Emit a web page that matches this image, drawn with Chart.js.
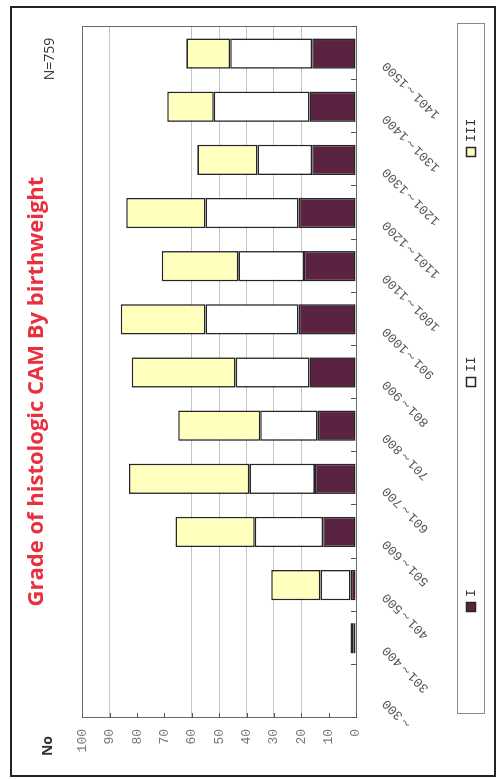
<!DOCTYPE html>
<html>
<head>
<meta charset="utf-8">
<script src="https://cdn.jsdelivr.net/npm/chart.js@4/dist/chart.umd.min.js"></script>
<style>
  html, body { margin:0; padding:0; background:#fff; overflow:hidden; }
  #frame { position:absolute; left:10px; top:6px; width:486px; height:771px; border:2px solid #222; box-sizing:border-box; }
  #wrap { position:absolute; left:0; top:0; width:780px; height:497px; transform-origin:0 0; transform:translate(0,780px) rotate(-90deg); }
</style>
</head>
<body>
<div id="wrap"><canvas id="c" width="780" height="497"></canvas></div>
<div id="frame"></div>
<script>
// ---- data ----
const categories = ['～300','301～400','401～500','501～600','601～700','701～800','801～900','901～1000','1001～1100','1101～1200','1201～1300','1301～1400','1401～1500'];
const gradeI   = [0, 1, 2, 12, 15, 14, 17, 21, 19, 21, 16, 17, 16];
const gradeII  = [0, 1, 11, 25, 24, 21, 27, 34, 24, 34, 20, 35, 30];
const gradeIII = [0, 0, 18, 29, 44, 30, 38, 31, 28, 29, 22, 17, 16];
const seriesNames = ['I', 'II', 'III'];
const valueMin = 0, valueMax = 100, valueStep = 10;
const fadedGridValues = [10, 70, 80];
const titleText = 'Grade of histologic CAM By birthweight';
const axisLabel = 'No';
const sampleNote = 'N=759';

const seriesColors = ['#5b2342', '#ffffff', '#ffffbe'];
const legendSlots = [0.153, 0.479, 0.812];

const decor = {
  id: 'decor',
  afterDraw(chart) {
    const ctx = chart.ctx, ca = chart.chartArea;
    const xs = chart.scales.x, ys = chart.scales.y;
    ctx.save();
    // plot border
    ctx.strokeStyle = '#6a6a6a';
    ctx.lineWidth = 1;
    ctx.strokeRect(Math.round(ca.left) + 0.5, Math.round(ca.top) + 0.5, Math.round(ca.width), Math.round(ca.height));
    // inward ticks
    ctx.strokeStyle = '#555';
    const half = (xs.getPixelForValue(1) - xs.getPixelForValue(0)) / 2;
    for (let i = 0; i <= categories.length; i++) {
      const x = Math.round(xs.getPixelForValue(i) - half) + 0.5;
      ctx.beginPath(); ctx.moveTo(x, ca.bottom); ctx.lineTo(x, ca.bottom - 5); ctx.stroke();
    }
    for (let v = valueMin; v <= valueMax; v += valueStep) {
      const y = Math.round(ys.getPixelForValue(v)) + 0.5;
      ctx.beginPath(); ctx.moveTo(ca.left, y); ctx.lineTo(ca.left + 5, y); ctx.stroke();
    }
    // axis label & note
    ctx.fillStyle = '#333';
    ctx.textAlign = 'center';
    ctx.textBaseline = 'middle';
    ctx.font = 'bold 14px "Open Sans"';
    ctx.fillText(axisLabel, ca.left - 28, ca.top - 34);
    ctx.font = '14px "Open Sans"';
    ctx.fillText(sampleNote, ca.right - 32, ca.top - 32);
    // legend
    const lt = ca.bottom + 101, lh = 27;
    const ll = ca.left + 4, lr = ca.right + 3;
    ctx.strokeStyle = '#8a8a8a';
    ctx.strokeRect(Math.round(ll) + 0.5, Math.round(lt) + 0.5, Math.round(lr - ll), lh);
    ctx.font = '13px "Liberation Mono"';
    ctx.textAlign = 'left';
    chart.data.datasets.forEach((ds, i) => {
      const mx = Math.round(ca.left + ca.width * legendSlots[i]);
      const my = Math.round(lt + lh / 2 - 5);
      ctx.fillStyle = ds.backgroundColor;
      ctx.fillRect(mx, my, 10, 10);
      ctx.strokeStyle = '#262626';
      ctx.lineWidth = 1.5;
      ctx.strokeRect(mx + 0.5, my + 0.5, 9, 9);
      ctx.fillStyle = '#333';
      ctx.fillText(ds.label, mx + 15, lt + lh / 2 + 1);
    });
    ctx.restore();
  }
};

const seriesData = [gradeI, gradeII, gradeIII];
new Chart(document.getElementById('c'), {
  type: 'bar',
  data: {
    labels: categories,
    datasets: seriesData.map((d, i) => ({
      label: seriesNames[i],
      data: d,
      backgroundColor: seriesColors[i],
      borderColor: '#262626',
      borderWidth: 1.6,
      borderSkipped: false,
      barPercentage: 0.57,
      categoryPercentage: 1
    }))
  },
  options: {
    responsive: false,
    animation: false,
    layout: { padding: { left: 24, right: 27, top: 0, bottom: 0 } },
    plugins: {
      legend: { display: false },
      tooltip: { enabled: false },
      title: {
        display: true,
        text: titleText,
        color: '#e8303f',
        font: { family: '"Open Sans"', size: 22, weight: 'bold' },
        padding: { top: 24, bottom: 32 }
      }
    },
    scales: {
      x: {
        stacked: true,
        grid: { display: false },
        border: { display: true, color: '#444' },
        ticks: { autoSkip: false, minRotation: 45, maxRotation: 45, color: '#555',
                 font: { family: '"Liberation Mono"', size: 13 }, padding: 15, labelOffset: -10 },
        afterFit(s) { s.height = 141; }
      },
      y: {
        stacked: true,
        min: valueMin, max: valueMax,
        ticks: { stepSize: valueStep, color: '#777', font: { family: '"Liberation Mono"', size: 13 }, padding: 11 },
        grid: { drawTicks: false, color: (c) => (c.tick && fadedGridValues.includes(c.tick.value)) ? 'rgba(0,0,0,0)' : '#c4c4c4' },
        border: { display: true, color: '#555' },
        afterFit(s) { s.width = 38; }
      }
    }
  },
  plugins: [decor]
});
</script>
</body>
</html>
